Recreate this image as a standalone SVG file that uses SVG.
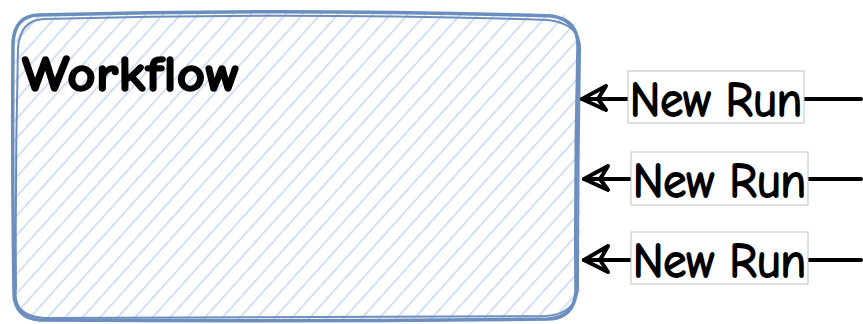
<svg xmlns="http://www.w3.org/2000/svg" width="863" height="324" viewBox="0 0 863 324">
<style>
.lbl{font-family:"Comic Neue","Liberation Sans",sans-serif;font-size:48px;fill:#000;stroke:#000;stroke-width:1.8}
.title{font-family:"Comic Neue","Liberation Sans",sans-serif;font-size:50px;font-weight:bold;fill:#000;stroke:#000;stroke-width:1.5}
.lblbox{fill:#fff;stroke:#c0c0c0;stroke-width:1}
.edge{stroke:#000;stroke-width:4;fill:none;stroke-linecap:round}
.head{stroke:#000;stroke-width:4;fill:none;stroke-linecap:round;stroke-linejoin:round}
</style>
<defs>
<pattern id="hatch" patternUnits="userSpaceOnUse" width="13" height="13" patternTransform="rotate(42)">
<line x1="0" y1="0" x2="0" y2="13" stroke="#c4d7f1" stroke-width="3"/>
</pattern>
</defs>
<g id="workflow">
<rect x="12" y="13" width="568" height="307" rx="26" fill="url(#hatch)"/>
<path d="M38 15 Q300 8 552 16 Q578 20 578 46 Q575 170 576 292 Q574 318 548 319 Q300 322 40 320 Q14 318 14 292 Q12 170 13 42 Q15 16 38 15 Z" fill="none" stroke="#6c8ebf" stroke-width="3.5"/>
<path d="M44 19 Q300 12 548 20 Q582 24 580 52 Q578 170 578 288 Q576 314 546 316 Q300 316 44 318 Q12 316 16 288 Q15 170 18 48 Q20 20 44 19 Z" fill="none" stroke="#6c8ebf" stroke-width="2"/>
<text class="title" x="22" y="91" textLength="218" lengthAdjust="spacingAndGlyphs">Workflow</text>
</g>
<g id="connectors">
<path class="edge" d="M861 99 L582 99"/>
<path class="head" d="M606 86 L582 99 L606 110 L598 99 Z"/>
<path class="edge" d="M861 179 L584 179"/>
<path class="head" d="M608 166 L584 179 L608 190 L600 179 Z"/>
<path class="edge" d="M861 260 L584 260"/>
<path class="head" d="M608 246 L584 260 L608 272 L600 260 Z"/>
</g>
<g id="run1">
<rect class="lblbox" x="628" y="71" width="176" height="52"/>
<text class="lbl" x="630" y="116" textLength="172" lengthAdjust="spacingAndGlyphs">New Run</text>
</g>
<g id="run2">
<rect class="lblbox" x="631" y="152" width="177" height="53"/>
<text class="lbl" x="633" y="197" textLength="173" lengthAdjust="spacingAndGlyphs">New Run</text>
</g>
<g id="run3">
<rect class="lblbox" x="631" y="232" width="177" height="52"/>
<text class="lbl" x="633" y="277" textLength="173" lengthAdjust="spacingAndGlyphs">New Run</text>
</g>
</svg>
